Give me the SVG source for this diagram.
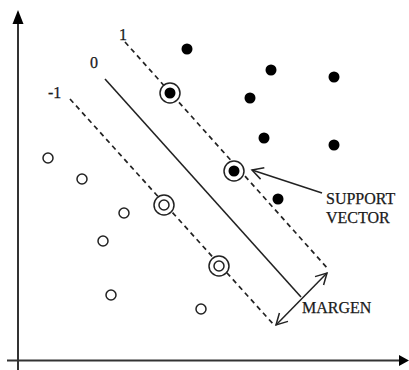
<svg xmlns="http://www.w3.org/2000/svg" width="409" height="370" viewBox="0 0 409 370">
  <style>
    .lbl { font-family: "Liberation Serif", "Times New Roman", serif; font-size: 16px; fill: #1a1a1a; stroke: #1a1a1a; stroke-width: 0.25; }
    .axis { stroke: #333; stroke-width: 2; fill: none; }
    .dash { stroke: #222; stroke-width: 1.7; stroke-dasharray: 5 4; fill: none; }
    .solid { stroke: #222; stroke-width: 1.6; fill: none; }
    .dot { fill: #000; }
    .ring { fill: #fff; stroke: #222; stroke-width: 1.5; }
    .ptr { stroke: #222; stroke-width: 1.5; fill: none; }
  </style>
  <defs>
    <marker id="open" markerWidth="14" markerHeight="14" refX="12" refY="7" orient="auto-start-reverse" markerUnits="userSpaceOnUse">
      <path d="M1,1 L12,7 L1,13" fill="none" stroke="#222" stroke-width="1.5"/>
    </marker>
  </defs>
  <rect width="409" height="370" fill="#fff"/>

  <!-- axes -->
  <g id="axes">
    <line class="axis" x1="18" y1="20" x2="18" y2="370"/>
    <path d="M18,10 L12.5,24 L23.5,24 Z" fill="#000"/>
    <line class="axis" x1="7" y1="360.5" x2="401" y2="360.5"/>
    <path d="M409,360.5 L399,355 L399,366 Z" fill="#000"/>
  </g>

  <!-- separating hyperplane, margin boundaries and pointers -->
  <g id="connectors">
    <line class="dash" x1="125" y1="42" x2="329" y2="270"/>
    <line class="solid" x1="105" y1="79" x2="301" y2="297"/>
    <line class="dash" x1="70" y1="99" x2="274" y2="325"/>
    <line class="ptr" x1="322" y1="193" x2="252" y2="170" marker-end="url(#open)"/>
    <line class="ptr" x1="276" y1="325" x2="327" y2="273" marker-start="url(#open)" marker-end="url(#open)"/>
  </g>

  <!-- line labels and annotations -->
  <g id="labels">
    <text class="lbl" x="119" y="40">1</text>
    <text class="lbl" x="90" y="68">0</text>
    <text class="lbl" x="48" y="98">-1</text>
    <text class="lbl" x="326" y="204">SUPPORT</text>
    <text class="lbl" x="326" y="223">VECTOR</text>
    <text class="lbl" x="302" y="313">MARGEN</text>
  </g>

  <!-- positive class -->
  <g id="positive">
    <circle class="dot" cx="187" cy="49" r="5.5"/>
    <circle class="dot" cx="271" cy="70" r="5.5"/>
    <circle class="dot" cx="334" cy="77" r="5.5"/>
    <circle class="dot" cx="250" cy="98" r="5.5"/>
    <circle class="dot" cx="264" cy="138" r="5.5"/>
    <circle class="dot" cx="334" cy="145" r="5.5"/>
    <circle class="dot" cx="278" cy="199" r="5.5"/>
  </g>
  <g id="sv-positive-1">
    <circle class="ring" cx="170" cy="93" r="10"/>
    <circle class="dot" cx="170" cy="93" r="5.5"/>
  </g>
  <g id="sv-positive-2">
    <circle class="ring" cx="234" cy="171" r="10"/>
    <circle class="dot" cx="234" cy="171" r="5.5"/>
  </g>

  <!-- negative class -->
  <g id="negative">
    <circle class="ring" cx="48" cy="158" r="5"/>
    <circle class="ring" cx="82" cy="179" r="5"/>
    <circle class="ring" cx="124" cy="213" r="5"/>
    <circle class="ring" cx="103" cy="241" r="5"/>
    <circle class="ring" cx="111" cy="295" r="5"/>
    <circle class="ring" cx="201" cy="309" r="5"/>
  </g>
  <g id="sv-negative-1">
    <circle class="ring" cx="164" cy="205" r="10"/>
    <circle class="ring" cx="164" cy="205" r="5"/>
  </g>
  <g id="sv-negative-2">
    <circle class="ring" cx="219" cy="266" r="10"/>
    <circle class="ring" cx="219" cy="266" r="5"/>
  </g>
</svg>
